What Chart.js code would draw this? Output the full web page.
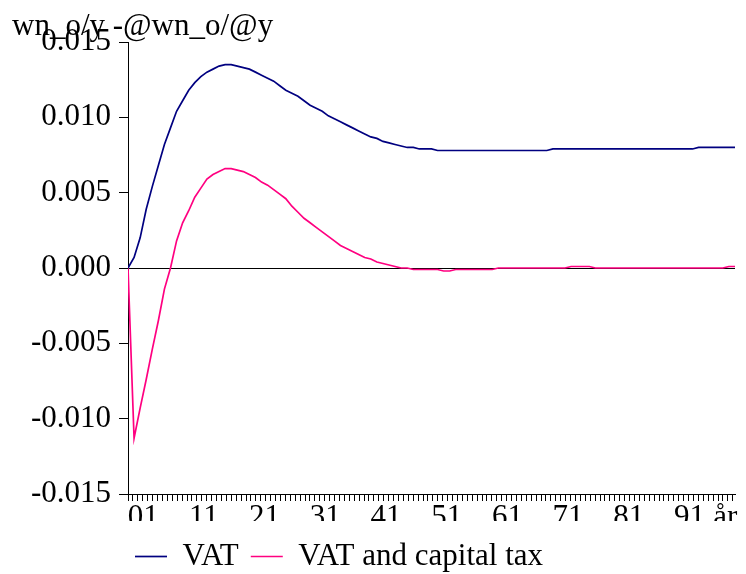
<!DOCTYPE html>
<html>
<head>
<meta charset="utf-8">
<script src="https://cdn.jsdelivr.net/npm/chart.js@4/dist/chart.umd.min.js"></script>
<style>
  body { margin: 0; background: #fff; }
</style>
</head>
<body>
<canvas id="chart" width="746" height="574"></canvas>
<script>
const chartTitle = "wn_o/y -@wn_o/@y";
const firstYear = 1999;
const years = Array.from({ length: 101 }, (_, i) => firstYear + i); // 1999..2099

const vat = [
  0, 0.0007, 0.0020, 0.0039, 0.0054, 0.0068, 0.0082, 0.0093, 0.0104, 0.0111,
  0.0118, 0.0123, 0.0127, 0.0130, 0.0132, 0.0134, 0.0135, 0.0135, 0.0134, 0.0133,
  0.0132, 0.0130, 0.0128, 0.0126, 0.0124, 0.0121, 0.0118, 0.0116, 0.0114, 0.0111,
  0.0108, 0.0106, 0.0104, 0.0101, 0.0099, 0.0097, 0.0095, 0.0093, 0.0091, 0.0089,
  0.0087, 0.0086, 0.0084, 0.0083, 0.0082, 0.0081, 0.0080, 0.0080, 0.0079, 0.0079,
  0.0079, 0.0078, 0.0078, 0.0078, 0.0078, 0.0078, 0.0078, 0.0078, 0.0078, 0.0078,
  0.0078, 0.0078, 0.0078, 0.0078, 0.0078, 0.0078, 0.0078, 0.0078, 0.0078, 0.0078,
  0.0079, 0.0079, 0.0079, 0.0079, 0.0079, 0.0079, 0.0079, 0.0079, 0.0079, 0.0079,
  0.0079, 0.0079, 0.0079, 0.0079, 0.0079, 0.0079, 0.0079, 0.0079, 0.0079, 0.0079,
  0.0079, 0.0079, 0.0079, 0.0079, 0.0080, 0.0080, 0.0080, 0.0080, 0.0080, 0.0080,
  0.0080
];

const vatCapital = [
  0, -0.0113, -0.0093, -0.0074, -0.0054, -0.0035, -0.0014, 0.0000, 0.0018, 0.0030,
  0.0038, 0.0047, 0.0053, 0.0059, 0.0062, 0.0064, 0.0066, 0.0066, 0.0065, 0.0064,
  0.0062, 0.0060, 0.0057, 0.0055, 0.0052, 0.0049, 0.0046, 0.0041, 0.0037, 0.0033,
  0.0030, 0.0027, 0.0024, 0.0021, 0.0018, 0.0015, 0.0013, 0.0011, 0.0009, 0.0007,
  0.0006, 0.0004, 0.0003, 0.0002, 0.0001, 0, 0, -0.0001, -0.0001, -0.0001,
  -0.0001, -0.0001, -0.0002, -0.0002, -0.0001, -0.0001, -0.0001, -0.0001, -0.0001, -0.0001,
  -0.0001, 0, 0, 0, 0, 0, 0, 0, 0, 0,
  0, 0, 0, 0.0001, 0.0001, 0.0001, 0.0001, 0, 0, 0,
  0, 0, 0, 0, 0, 0, 0, 0, 0, 0,
  0, 0, 0, 0, 0, 0, 0, 0, 0, 0.0001,
  0.0001
];

const xTickLabels = ["01", "11", "21", "31", "41", "51", "61", "71", "81", "91"];
const xAxisName = "år";
const yTickValues = [-0.015, -0.010, -0.005, 0, 0.005, 0.010, 0.015];
const seriesNames = ["VAT", "VAT and capital tax"];

const FONT = '"Liberation Serif", "Times New Roman", serif';
Chart.defaults.font.family = FONT;
Chart.defaults.font.size = 31;
Chart.defaults.color = "#000";

// title sits over the top tick label, like the original
const titlePlugin = {
  id: "topTitle",
  afterDraw(chart) {
    const ctx = chart.ctx;
    ctx.save();
    ctx.font = "31px " + FONT;
    ctx.fillStyle = "#000";
    ctx.textBaseline = "alphabetic";
    ctx.fillText(chartTitle, 12, 35);
    ctx.restore();
  }
};

// move the legend under the plot
const legendShift = {
  id: "legendShift",
  afterLayout(chart) {
    const lg = chart.legend;
    lg.left += 123; lg.right += 123;
    lg.top += 8; lg.bottom += 8;
  }
};

const toPoints = arr => arr.map((v, i) => ({ x: years[i], y: v }));

new Chart(document.getElementById("chart"), {
  type: "line",
  data: {
    datasets: [{
      label: seriesNames[0],
      data: toPoints(vat),
      borderColor: "#000080",
      backgroundColor: "#000080",
      borderWidth: 1.7
    }, {
      label: seriesNames[1],
      data: toPoints(vatCapital),
      borderColor: "#ff0080",
      backgroundColor: "#ff0080",
      borderWidth: 1.7
    }]
  },
  options: {
    responsive: false,
    animation: false,
    layout: { padding: { top: 42, right: 11, left: 0, bottom: 0 } },
    elements: { point: { radius: 0 }, line: { tension: 0 } },
    plugins: {
      tooltip: { enabled: false },
      legend: {
        position: "bottom",
        align: "start",
        labels: {
          usePointStyle: true,
          pointStyle: "line",
          pointStyleWidth: 32,
          padding: 12,
          font: { size: 31 },
          color: "#000"
        }
      }
    },
    scales: {
      x: {
        type: "linear",
        min: years[0],
        max: years[years.length - 1],
        afterBuildTicks(scale) {
          let ticks = [];
          for (let k = 0; k <= 123; k++) ticks.push({ value: scale.min + k * 0.81, text: "" });
          xTickLabels.forEach(t => ticks.push({ value: 2000 + Number(t) + 0.5, text: t }));
          ticks.push({ value: 2097.4, text: xAxisName });
          ticks.sort((a, b) => a.value - b.value);
          scale.ticks = ticks;
        },
        afterFit(scale) { scale.height = 27; },
        ticks: {
          autoSkip: false,
          maxRotation: 0,
          padding: 1,
          font: { size: 31, lineHeight: 1 },
          callback: (value, index, ticks) => ticks[index].text
        },
        grid: {
          drawOnChartArea: false,
          drawTicks: true,
          tickLength: 7,
          tickColor: c => (c.tick && c.tick.text) ? "rgba(0,0,0,0)" : "#000"
        },
        border: { color: "#000", width: 1 }
      },
      y: {
        min: -0.015,
        max: 0.015,
        afterBuildTicks(scale) {
          scale.ticks = yTickValues.map(v => ({ value: v }));
        },
        afterFit(scale) { scale.width = 128; },
        ticks: {
          padding: 8,
          font: { size: 31 },
          callback: v => v.toFixed(3)
        },
        grid: {
          drawOnChartArea: true,
          tickLength: 9,
          color: c => (c.tick && c.tick.value === 0) ? "#000" : "rgba(0,0,0,0)",
          tickColor: "#000"
        },
        border: { color: "#000", width: 1 }
      }
    }
  },
  plugins: [titlePlugin, legendShift]
});
</script>
</body>
</html>
